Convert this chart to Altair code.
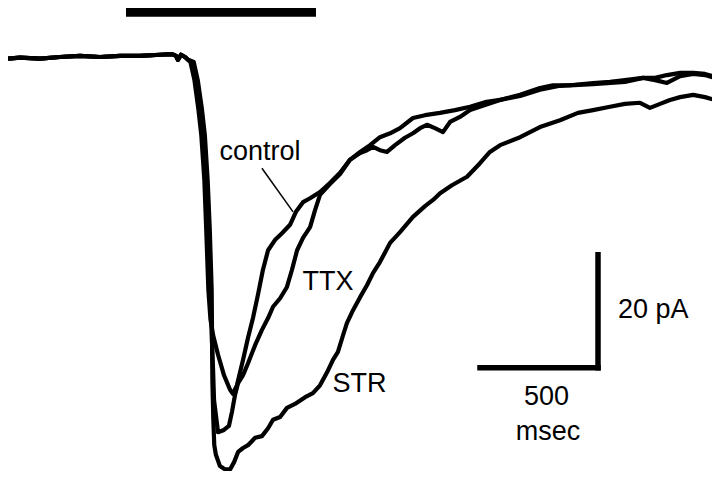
import altair as alt
import pandas as pd

# ---- data (time in ms from stimulus onset, current in pA relative to baseline) ----
baseline_t = [-500, -449, -364, -280, -195, -110, -25, 59, 144, 195, 212, 220, 233, 250, 263]
baseline_i = [-0.3, -0.1, -0.3, 0.0, 0.2, 0.0, 0.2, 0.2, 0.4, 0.5, 0.2, -0.5, 0.4, 0.0, -0.5]

control_t = [273, 290, 306, 319, 332, 340, 349,
             358, 369, 390, 415, 441, 453, 470, 496, 517, 538, 559, 580, 602, 631, 661, 695,
             720, 750, 780, 822, 864, 907, 949, 992, 1034, 1076, 1119, 1161, 1216, 1267,
             1330, 1394, 1458, 1521, 1585, 1670, 1754, 1809, 1881, 1979, 2051, 2114, 2191,
             2242, 2292, 2348, 2403, 2453, 2496]
control_i = [-0.9, -4.1, -9.0, -13.8, -21.8, -30.6, -41.2,
             -46.5, -49.2, -52.7, -56.3, -58.9, -59.6, -58.1, -53.6, -49.7, -46.2, -42.1,
             -37.7, -34.2, -32.4, -31.2, -29.7, -27.4, -25.7, -25.0, -23.9, -22.3, -20.5,
             -18.2, -16.8, -15.6, -14.2, -13.5, -12.6, -10.8, -10.3, -9.9, -9.4, -8.8, -8.0,
             -7.6, -6.7, -5.5, -5.0, -5.0, -4.6, -4.4, -4.1, -3.7, -3.7, -3.2, -2.8, -2.8,
             -3.0, -3.5]

ttx_t = [280, 297, 314, 326, 339, 347, 356,
         360, 364, 369, 373, 390, 415, 436, 449, 462, 475, 496, 517, 547, 576, 602, 623,
         653, 682, 703, 725, 750, 780, 801, 822, 864, 907, 949, 992, 1021, 1047, 1076,
         1106, 1140, 1182, 1216, 1246, 1275, 1309, 1343, 1373, 1415, 1458, 1521, 1585,
         1670, 1754, 1839, 1979, 2114, 2191, 2242, 2292, 2348, 2403, 2453, 2496]
ttx_i = [-0.9, -4.1, -9.0, -13.8, -21.8, -30.6, -41.2,
         -45.0, -50.1, -55.4, -60.7, -66.4, -66.0, -65.3, -62.8, -59.8, -57.7, -56.3,
         -54.2, -51.0, -48.3, -46.2, -44.2, -42.7, -40.7, -37.7, -34.2, -32.0, -30.1,
         -27.1, -24.4, -22.5, -20.7, -18.2, -17.0, -16.5, -15.9, -16.5, -16.8, -15.6,
         -14.3, -13.5, -12.6, -12.0, -12.6, -13.3, -11.5, -10.6, -9.4, -8.5, -7.6, -6.9,
         -5.8, -5.1, -4.8, -4.4, -3.7, -4.1, -4.6, -3.4, -3.0, -3.2, -3.7]

str_t = [287, 304, 321, 334, 346, 355, 363,
         366, 370, 374, 381, 398, 420, 441, 458, 475, 496, 517, 547, 576, 602, 623, 653,
         682, 716, 759, 792, 822, 852, 877, 898, 920, 936, 962, 992, 1021, 1047, 1076,
         1119, 1161, 1216, 1267, 1301, 1331, 1381, 1445, 1500, 1542, 1585, 1670, 1754,
         1839, 1915, 1979, 2051, 2114, 2178, 2220, 2263, 2305, 2348, 2403, 2453, 2496]
str_i = [-0.9, -4.1, -9.0, -13.8, -21.8, -30.6, -41.2,
         -57.2, -64.2, -68.7, -70.4, -72.4, -73.0, -73.0, -71.7, -69.9, -69.2, -68.7,
         -67.4, -67.1, -65.7, -64.2, -63.7, -62.1, -61.4, -60.2, -59.5, -58.1, -55.8,
         -53.6, -52.2, -49.2, -47.1, -44.8, -42.5, -40.4, -38.2, -36.3, -32.9, -31.0,
         -28.3, -26.4, -25.3, -24.1, -22.7, -21.2, -18.8, -16.8, -15.6, -14.2, -12.4,
         -11.2, -9.9, -9.4, -8.8, -8.3, -8.1, -9.0, -8.3, -7.6, -7.1, -6.7, -7.1, -7.6]

# stimulus bar (ms) and scale bars
stim_start, stim_end, stim_level = 0, 805, 8.0
scale_t0, scale_t1 = 1500, 2000
scale_i0, scale_i1 = -55, -35

# labels
label_text = ["control", "TTX", "STR", "20 pA", "500", "msec"]
label_t = [396, 748, 875, 2085, 1782, 1788]
label_i = [-18.2, -41.2, -59.3, -46.2, -61.6, -67.8]
label_align = ["left", "left", "left", "left", "center", "center"]

pointer_t = [576, 708]
pointer_i = [-19.7, -27.4]

# ---- build tables ----
rows = []
for name, ts, cs in [("control", control_t, control_i), ("TTX", ttx_t, ttx_i), ("STR", str_t, str_i)]:
    tt = baseline_t + ts
    ii = baseline_i + cs
    for k, (a, b) in enumerate(zip(tt, ii)):
        rows.append({"series": name, "t": a, "I": b, "k": k})
traces = pd.DataFrame(rows)

xs = alt.Scale(domain=[-500, 2483], nice=False, zero=False)
ys = alt.Scale(domain=[-73.27, 8.67], nice=False, zero=False)

def X(f="t"):
    return alt.X(f"{f}:Q", scale=xs, axis=None)

def Y(f="I"):
    return alt.Y(f"{f}:Q", scale=ys, axis=None)

lines = alt.Chart(traces).mark_line(color="black", strokeWidth=4.2, strokeJoin="round").encode(
    x=X(), y=Y(), detail="series:N", order="k:Q"
)

stim = alt.Chart(pd.DataFrame({"t": [stim_start], "t2": [stim_end], "I": [stim_level]})).mark_rule(
    color="black", strokeWidth=10
).encode(x=X(), x2="t2:Q", y=Y())

scale_df = pd.DataFrame({
    "t": [scale_t0, scale_t1], "t2": [scale_t1, scale_t1],
    "I": [scale_i0, scale_i0], "I2": [scale_i0, scale_i1],
})
scalebars = alt.Chart(scale_df).mark_rule(color="black", strokeWidth=5.5, strokeCap="square").encode(
    x=X(), x2="t2:Q", y=Y(), y2="I2:Q"
)

pointer = alt.Chart(pd.DataFrame({"t": [pointer_t[0]], "t2": [pointer_t[1]],
                                  "I": [pointer_i[0]], "I2": [pointer_i[1]]})).mark_rule(
    color="black", strokeWidth=1.5
).encode(x=X(), x2="t2:Q", y=Y(), y2="I2:Q")

lab_df = pd.DataFrame({"text": label_text, "t": label_t, "I": label_i, "align": label_align})
texts = []
for al in ["left", "center"]:
    texts.append(
        alt.Chart(lab_df[lab_df["align"] == al]).mark_text(
            align=al, baseline="alphabetic", font="Liberation Sans", fontSize=27, color="black"
        ).encode(x=X(), y=Y(), text="text:N")
    )

chart = alt.layer(lines, stim, scalebars, pointer, *texts).properties(
    width=704, height=463, padding=0, background="white",
    autosize=alt.AutoSizeParams(type="none")
).configure_view(strokeWidth=0)

chart.save("out.html", embed_options={"renderer": "svg", "actions": False})
